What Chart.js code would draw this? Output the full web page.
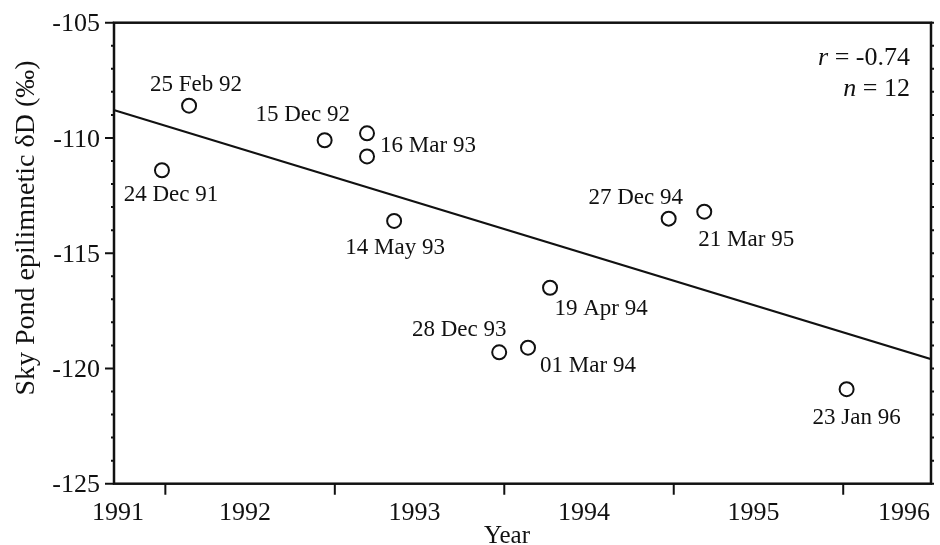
<!DOCTYPE html>
<html>
<head>
<meta charset="utf-8">
<title>Sky Pond epilimnetic δD</title>
<script src="https://cdn.jsdelivr.net/npm/chart.js@4.4.0/dist/chart.umd.min.js"></script>
<style>
  html, body { margin: 0; padding: 0; background: #fff; }
  #wrap { width: 940px; height: 545px; }
</style>
</head>
<body>
<div id="wrap"><canvas id="chart" width="940" height="545"></canvas></div>
<script>
// Sampling dates (decimal years) and epilimnetic dD values (permil)
const sampleLabels = ['24 Dec 91', '25 Feb 92', '15 Dec 92', '16 Mar 93', '', '14 May 93', '28 Dec 93', '01 Mar 94', '19 Apr 94', '27 Dec 94', '21 Mar 95', '23 Jan 96']
const sampleYears = [1991.98, 1992.14, 1992.94, 1993.19, 1993.19, 1993.35, 1993.97, 1994.14, 1994.27, 1994.97, 1995.18, 1996.02]
const sampleDD = [-111.4, -108.6, -110.1, -109.8, -110.8, -113.6, -119.3, -119.1, -116.5, -113.5, -113.2, -120.9]

// Regression line, read at both ends of the x axis
const fitYears = [1991.70, 1996.52]
const fitDD = [-108.8, -119.6]

// Axes
const yearTicks = [1992, 1993, 1994, 1995, 1996]
const yearLabels = ['1991', '1992', '1993', '1994', '1995', '1996']
const ddTicks = [-105, -110, -115, -120, -125]
const statNames = ['r', 'n']
const statValues = ['-0.74', '12']

// Label placement relative to each circle (centre dx, dy in px)
const labelOffsets = [
  [9, 23], [7, -22], [-22, -27], [61, 11], [0, 0], [1, 25],
  [-40, -24], [60, 17], [51, 20], [-33, -22], [42, 27], [10, 27]
]

const serif = '"Liberation Serif", "Times New Roman", serif'

// Draw text so that the middle of its cap height sits on cy
function capText(ctx, text, x, cy, size, align, style) {
  ctx.font = (style ? style + ' ' : '') + size + 'px ' + serif
  ctx.textAlign = align
  ctx.textBaseline = 'alphabetic'
  ctx.fillText(text, x, cy + size * 0.33)
}

const framePlugin = {
  id: 'frame',
  afterDraw(chart) {
    const ctx = chart.ctx
    const { left, right, top, bottom } = chart.chartArea
    const xs = chart.scales.x
    const ys = chart.scales.y
    ctx.save()
    ctx.strokeStyle = '#111'
    ctx.fillStyle = '#111'

    // plot frame
    ctx.lineWidth = 2.5
    ctx.strokeRect(left, top, right - left, bottom - top)

    // y ticks: major every 5, minor every 1
    ctx.lineWidth = 2
    ctx.beginPath()
    for (let v = ys.min; v <= ys.max; v++) {
      const y = ys.getPixelForValue(v)
      const major = ddTicks.includes(v)
      ctx.moveTo(left - (major ? 9 : 3), y)
      ctx.lineTo(left, y)
      ctx.moveTo(right, y)
      ctx.lineTo(right + 3, y)
    }
    ctx.stroke()
    ddTicks.forEach(v => capText(ctx, String(v), left - 14, ys.getPixelForValue(v), 26, 'right'))

    // x ticks at 1 January, year labels centred on each year
    ctx.beginPath()
    yearTicks.forEach(yr => {
      const x = xs.getPixelForValue(yr)
      ctx.moveTo(x, bottom)
      ctx.lineTo(x, bottom + 11)
    })
    ctx.stroke()
    yearLabels.forEach(lbl => {
      let x = xs.getPixelForValue(Number(lbl) + 0.47)
      x = Math.min(Math.max(x, left + 4), right - 27)
      capText(ctx, lbl, x, 511, 26, 'center')
    })

    // axis titles
    capText(ctx, 'Year', 507, 535, 25, 'center')
    ctx.save()
    ctx.translate(25, 228)
    ctx.rotate(-Math.PI / 2)
    capText(ctx, 'Sky Pond epilimnetic δD (‰)', 0, 0, 28, 'center')
    ctx.restore()

    // sample date labels
    const pts = chart.getDatasetMeta(0).data
    pts.forEach((p, i) => {
      if (!sampleLabels[i]) return
      const [dx, dy] = labelOffsets[i]
      capText(ctx, sampleLabels[i], p.x + dx, p.y + dy, 23, 'center')
    })

    // statistics
    statNames.forEach((name, i) => {
      const cy = 56 + i * 31
      const rest = ' = ' + statValues[i]
      ctx.font = '26px ' + serif
      const w = ctx.measureText(rest).width
      capText(ctx, rest, 910, cy, 26, 'right')
      capText(ctx, name, 910 - w, cy, 26, 'right', 'italic')
    })
    ctx.restore()
  }
}

new Chart(document.getElementById('chart'), {
  type: 'scatter',
  data: {
    datasets: [{
      label: 'Sky Pond',
      data: sampleYears.map((x, i) => ({ x, y: sampleDD[i] })),
      pointRadius: 7,
      pointBorderWidth: 2,
      pointBorderColor: '#111',
      pointBackgroundColor: 'transparent',
      showLine: false
    }, {
      label: 'Fit',
      type: 'line',
      data: fitYears.map((x, i) => ({ x, y: fitDD[i] })),
      borderColor: '#111',
      borderWidth: 2,
      pointRadius: 0,
      fill: false
    }]
  },
  options: {
    responsive: false,
    animation: false,
    layout: { padding: { left: 114, right: 2.5, top: 22.7, bottom: 61.3 } },
    plugins: { legend: { display: false }, tooltip: { enabled: false } },
    scales: {
      x: { type: 'linear', display: false, min: 1991.697, max: 1996.518 },
      y: { type: 'linear', display: false, min: -125, max: -105 }
    }
  },
  plugins: [framePlugin]
})
</script>
</body>
</html>
